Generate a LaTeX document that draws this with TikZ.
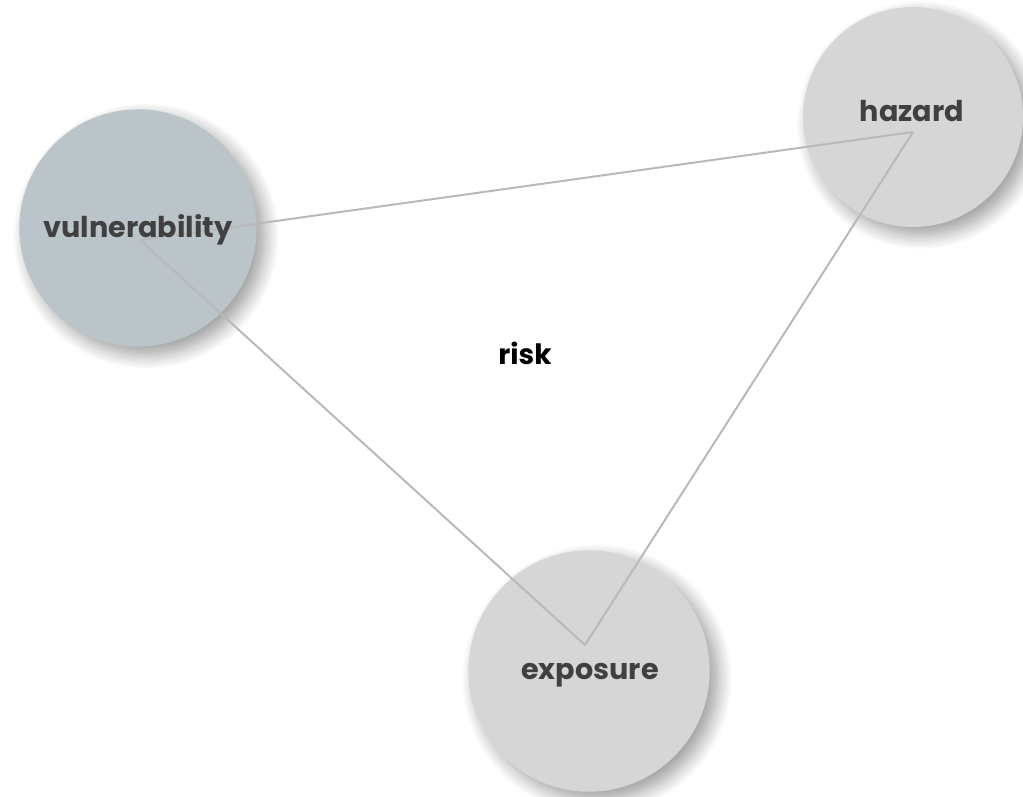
\documentclass[tikz,border=0pt]{standalone}
\usepackage{fontspec}
\setmainfont{Poppins}
\usetikzlibrary{shadows.blur}
\definecolor{RiskSlate}{RGB}{186,196,201}
\definecolor{RiskGray}{RGB}{214,214,214}
\definecolor{RiskLine}{RGB}{185,185,185}
\definecolor{RiskText}{RGB}{64,64,64}
\tikzset{
  risk/circle/.style={
    circle,
    draw=none,
    fill=RiskGray,
    inner sep=0pt,
    blur shadow={shadow xshift=6pt, shadow yshift=-6pt, shadow blur radius=11pt, shadow blur steps=12, shadow opacity=40}
  },
  risk/link/.style={draw=RiskLine, line width=1.5pt},
  risk/label/.style={font=\bfseries\fontsize{21.5}{25}\selectfont, text=RiskText, inner sep=0pt},
  risk/title/.style={font=\bfseries\fontsize{21}{25}\selectfont, text=black, inner sep=0pt}
}
\begin{document}
\begin{tikzpicture}[x=0.75pt,y=-0.75pt]
  \useasboundingbox (0,0) rectangle (1023,796);
  % circles
  \node[risk/circle, fill=RiskSlate, minimum size=178pt] (vul) at (138,228) {};
  \node[risk/circle, minimum size=165pt] (haz) at (913,117) {};
  \node[risk/circle, minimum size=181pt] (exp) at (589,671) {};
  % corners of the triangle
  \coordinate (vulpt) at (140,240);
  \coordinate (hazpt) at (913,132);
  \coordinate (exppt) at (585,645);
  \draw[risk/link] (vulpt) -- (hazpt);
  \draw[risk/link] (vulpt) -- (exppt);
  \draw[risk/link] (exppt) -- (hazpt);
  % labels
  \node[risk/label] (vultext) at (138,230) {vulnerability};
  \node[risk/label] (haztext) at (912,111) {hazard};
  \node[risk/label] (exptext) at (590,675) {exposure};
  \node[risk/title] (risktext) at (525,353) {risk};
\end{tikzpicture}
\end{document}
